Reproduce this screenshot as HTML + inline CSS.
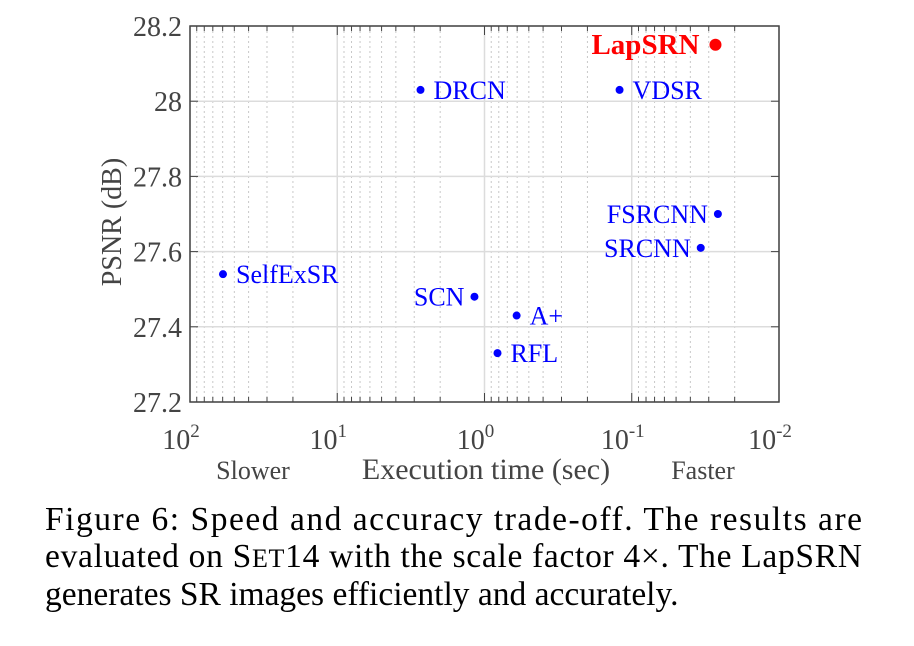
<!DOCTYPE html>
<html><head><meta charset="utf-8"><style>
body{margin:0;background:#fff;}
svg{display:block;font-family:"Liberation Serif",serif;}
</style></head><body>
<svg id="chart" width="914" height="646" viewBox="0 0 914 646" xmlns="http://www.w3.org/2000/svg">
<g id="grid"></g>
<g id="axes"></g>
<g id="marks"></g>
<text x="486" y="479" font-size="30" fill="#444" text-anchor="middle">Execution time (sec)</text>
<text x="253" y="479" font-size="26" fill="#444" text-anchor="middle">Slower</text>
<text x="703" y="479" font-size="26" fill="#444" text-anchor="middle">Faster</text>
<text transform="translate(121,222) rotate(-90)" font-size="28" fill="#444" text-anchor="middle">PSNR (dB)</text>
<g font-size="33.5" fill="#000">
<text x="45" y="530" textLength="817" lengthAdjust="spacing">Figure 6:  Speed and accuracy trade-off.  The results are</text>
<text x="45" y="567" textLength="817" lengthAdjust="spacing">evaluated on S<tspan font-size="26">ET</tspan>14 with the scale factor 4×. The LapSRN</text>
<text x="45" y="605">generates SR images efficiently and accurately.</text>
</g>
</svg>
<script>
const methods=["LapSRN","VDSR","DRCN","FSRCNN","SRCNN","SelfExSR","SCN","A+","RFL"];
const times=[0.027,0.121,2.72,0.026,0.034,59.7,1.17,0.605,0.816];
const psnr=[28.15,28.03,28.03,27.70,27.61,27.54,27.48,27.43,27.33];
const yTicks=[27.2,27.4,27.6,27.8,28.0,28.2];
const yTickLabels=["27.2","27.4","27.6","27.8","28","28.2"];
const xDecades=[2,1,0,-1,-2];
const labelSide=["left","right","right","left","left","right","left","right","right"];

const L=190,R=779,T=26,B=402;
const xs=t=>L+(2-Math.log10(t))/4*(R-L);
const ys=v=>B-(v-27.2)/1.0*(B-T);
const NS="http://www.w3.org/2000/svg";
function mk(tag,attrs,parent){const e=document.createElementNS(NS,tag);for(const k in attrs)e.setAttribute(k,attrs[k]);parent.appendChild(e);return e;}
const grid=document.getElementById('grid'),axes=document.getElementById('axes'),marks=document.getElementById('marks');
for(let d=2;d>-2;d--){for(let m=2;m<=9;m++){const x=xs(Math.pow(10,d-1)*m);
 const l=mk('line',{x1:x,x2:x,y1:T,y2:B,stroke:'#c8c8c8','stroke-width':1,'stroke-dasharray':'2,3'},grid);
 
 for(const [a,b] of [[B,B-5],[T,T+5]]){const tk=mk('line',{x1:x,x2:x,y1:a,y2:b,stroke:'#444','stroke-width':1},axes);
 }}}
xDecades.forEach(d=>{const x=xs(Math.pow(10,d));
 const l=mk('line',{x1:x,x2:x,y1:T,y2:B,stroke:'#dcdcdc','stroke-width':1.5},grid);
 
 const t=mk('text',{x:x-9,y:B+47,'font-size':28,fill:'#444','text-anchor':'middle'},axes);
 
 t.textContent='10';const s=mk('tspan',{dy:-12,'font-size':19},t);s.textContent=String(d);
 for(const [a,b] of [[B,B-9],[T,T+9]])mk('line',{x1:x,x2:x,y1:a,y2:b,stroke:'#444','stroke-width':1},axes);
});
yTicks.forEach((v,i)=>{const y=ys(v);
 const l=mk('line',{x1:L,x2:R,y1:y,y2:y,stroke:'#dcdcdc','stroke-width':1.5},grid);
 
 mk('line',{x1:L,x2:L+8,y1:y,y2:y,stroke:'#444'},axes);mk('line',{x1:R,x2:R-8,y1:y,y2:y,stroke:'#444'},axes);
 const t=mk('text',{x:L-8,y:y+10,'font-size':28,fill:'#444','text-anchor':'end'},axes);
 
 t.textContent=yTickLabels[i];
});
const box=mk('rect',{x:L,y:T,width:R-L,height:B-T,fill:'none',stroke:'#444','stroke-width':1.5},axes);

methods.forEach((m,i)=>{const x=xs(times[i]),y=ys(psnr[i]);const main=m==="LapSRN";
 const c=mk('circle',{cx:x,cy:y,r:main?6:4,fill:main?'#f00':'#00f'},marks);
 
 
 const left=labelSide[i]==="left";
 const t=mk('text',{x:left?x-(main?16:10):x+(main?16:13),y:y+9,'font-size':main?29:26,'font-weight':main?'bold':'normal',fill:main?'#f00':'#00f','text-anchor':left?'end':'start'},marks);
 
 
 t.textContent=m;
});
</script>
</body></html>
